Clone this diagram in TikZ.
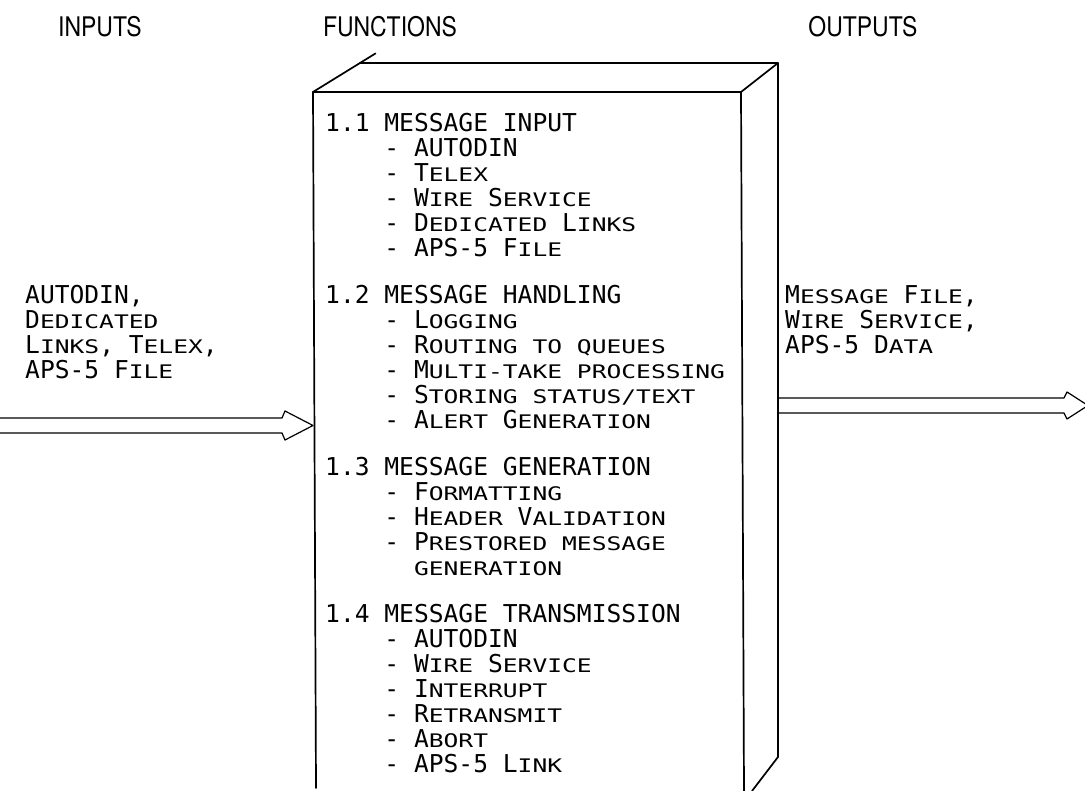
\documentclass[tikz,border=0pt]{standalone}
\usepackage{fontspec}
\usepackage{graphicx}
\setmainfont{DejaVu Sans Mono}
\newfontfamily\headfont[FakeStretch=0.85]{TeX Gyre Heros}
\usetikzlibrary{calc,positioning}

\tikzset{
    boxline/.style={line width=1.7pt, black, line cap=round, line join=round},
    flowarrow/.style={line width=1.2pt, black, line join=round},
    headtext/.style={inner sep=0pt, font=\headfont\fontsize{27}{30}\selectfont},
    fntext/.style={anchor=north west, inner sep=0pt, align=left,
        font=\fontsize{24.6}{25}\selectfont},
    iotext/.style={anchor=north west, inner sep=0pt, align=left,
        font=\fontsize{24.6}{25}\selectfont}
}
% plotter style small capitals
\newcommand{\smc}[1]{\scalebox{1}[0.76]{\MakeUppercase{#1}}}
\newcommand{\fnitem}[1]{\phantom{0000}- #1}

\begin{document}
\begin{tikzpicture}[x=1pt, y=-1pt]
    \useasboundingbox (0,0) rectangle (1085,791);

    \node[headtext] (hin) at (100,27) {INPUTS};
    \node[headtext] (hfn) at (390,27) {FUNCTIONS};
    \node[headtext] (hout) at (863,27) {OUTPUTS};

    % box corners
    \coordinate (ftl) at (313,92);
    \coordinate (ftr) at (741,92);
    \coordinate (fbl) at (316,788);
    \coordinate (fbr) at (744,791);
    \coordinate (btl) at (360,63);
    \coordinate (btr) at (778,63);
    \coordinate (bbr) at (778,757);

    \draw[boxline] (ftl) -- (ftr) -- (fbr);
    \draw[boxline] (ftl) -- (fbl);
    \draw[boxline] (ftl) -- ($(ftl)!1.33!(btl)$);
    \draw[boxline] (btl) -- (btr) -- (bbr) -- (752,791);
    \draw[boxline] (ftr) -- (btr);

    \node[fntext] (minput) at (325,113) {1.1 MESSAGE INPUT\\
        \fnitem{AUTODIN}\\
        \fnitem{T\smc{elex}}\\
        \fnitem{W\smc{ire} S\smc{ervice}}\\
        \fnitem{D\smc{edicated} L\smc{inks}}\\
        \fnitem{APS-5 F\smc{ile}}};
    \node[fntext] (mhandling) at (325,285) {1.2 MESSAGE HANDLING\\
        \fnitem{L\smc{ogging}}\\
        \fnitem{R\smc{outing to queues}}\\
        \fnitem{M\smc{ulti-take processing}}\\
        \fnitem{S\smc{toring status/text}}\\
        \fnitem{A\smc{lert} G\smc{eneration}}};
    \node[fntext] (mgeneration) at (325,457) {1.3 MESSAGE GENERATION\\
        \fnitem{F\smc{ormatting}}\\
        \fnitem{H\smc{eader} V\smc{alidation}}\\
        \fnitem{P\smc{restored message}}\\
        \phantom{000000}\smc{generation}};
    \node[fntext] (mtransmission) at (325,604) {1.4 MESSAGE TRANSMISSION\\
        \fnitem{AUTODIN}\\
        \fnitem{W\smc{ire} S\smc{ervice}}\\
        \fnitem{I\smc{nterrupt}}\\
        \fnitem{R\smc{etransmit}}\\
        \fnitem{A\smc{bort}}\\
        \fnitem{APS-5 L\smc{ink}}};

    \node[iotext] (inlabel) at (25,285) {AUTODIN,\\
        D\smc{edicated}\\
        L\smc{inks}, T\smc{elex},\\
        APS-5 F\smc{ile}};
    \node[iotext] (outlabel) at (785,285) {M\smc{essage} F\smc{ile},\\
        W\smc{ire} S\smc{ervice},\\
        APS-5 D\smc{ata}};

    % double arrows
    \coordinate (inend) at (0,425.5);
    \coordinate (intip) at (313,425.5);
    \coordinate (outend) at (bbr |- 0,405.5);
    \coordinate (outtip) at (1088,405.5);

    \draw[flowarrow] ($(inend)+(0,-7.5)$) -- ($(intip)+(-31,-7.5)$) -- ($(intip)+(-28,-14.5)$)
        -- (intip) -- ($(intip)+(-28,14.5)$) -- ($(intip)+(-31,7.5)$) -- ($(inend)+(0,7.5)$);
    \draw[flowarrow] ($(outend)+(0,-7.5)$) -- ($(outtip)+(-24,-7.5)$) -- ($(outtip)+(-21,-13.5)$)
        -- (outtip) -- ($(outtip)+(-21,13.5)$) -- ($(outtip)+(-24,7.5)$) -- ($(outend)+(0,7.5)$);
\end{tikzpicture}
\end{document}
